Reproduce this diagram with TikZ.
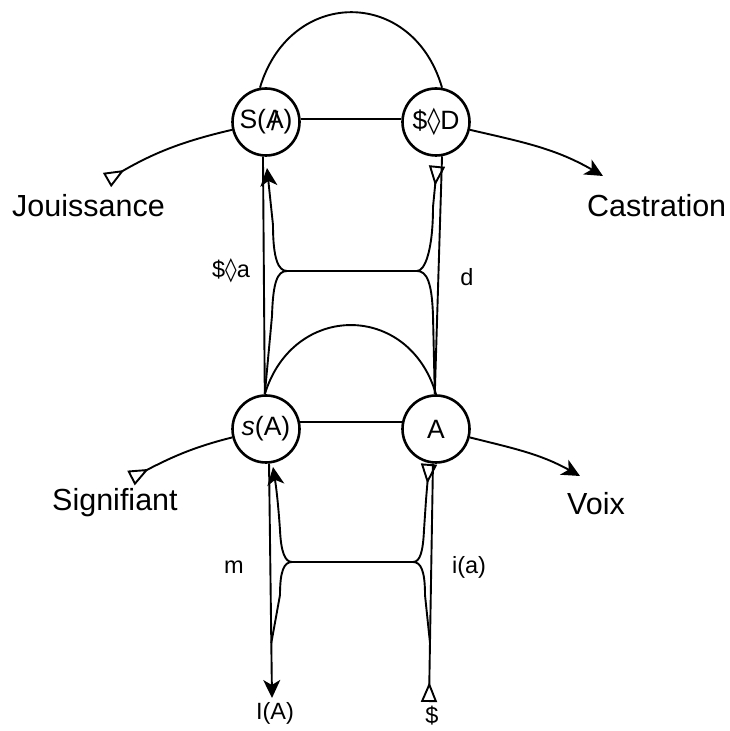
\documentclass[tikz,border=0pt]{standalone}
\usepackage{fontspec}
\setmainfont{Liberation Sans}
\newfontfamily\dejavu{DejaVu Sans}
\usetikzlibrary{arrows.meta}
% barred A and the lozenge (poinçon)
\newcommand{\barredA}{\ooalign{A\cr\hidewidth\raisebox{-0.05em}{/}\hidewidth\cr}}
\newcommand{\lozg}{{\dejavu\char"25CA}}
\tikzset{
  tritail/.tip={Triangle[open,reversed,length=20pt,width=16pt]},
  stlhead/.tip={Stealth[length=18pt,width=17pt,inset=5pt]},
  circ/.style={circle,draw,line width=2.6pt,minimum size=67pt,inner sep=0pt,
    fill=white,font=\fontsize{26.5}{31}\selectfont},
  bigl/.style={inner sep=0pt,font=\fontsize{30.5}{36}\selectfont},
  smalll/.style={inner sep=0pt,font=\fontsize{23.5}{28}\selectfont},
  link/.style={line width=1.9pt},
}
\begin{document}
\begin{tikzpicture}[x=1pt,y=1pt]
\useasboundingbox (0,0) rectangle (729,731);
\fill[white] (0,0) rectangle (729,731);

% the four points of the graph
\node[circ] (SA) at (266,609) {S(\barredA)};
\node[circ] (SD) at (436,609) {\$\lozg D};
\node[circ] (sa) at (266,302) {\textit{s}(A)};
\node[circ] (A)  at (436,302) {A};

% free ends of the vectors
\coordinate (jt)  at (107,551);
\coordinate (ct)  at (603,555);
\coordinate (st)  at (131,253);
\coordinate (vt)  at (580,255);
\coordinate (dt)  at (437,565);
\coordinate (SAt) at (267,563);
\coordinate (at)  at (429,267);
\coordinate (sat) at (273,264);
\coordinate (IAt) at (272,33);
\coordinate (Dt)  at (429,29);
% junctions of the inner loops
\coordinate (uL) at (287,460);
\coordinate (uR) at (417,460);
\coordinate (lL) at (292,169);
\coordinate (lR) at (413,169);

% upper chain: Jouissance -> Castration
\draw[link,tritail-] (jt) to[out=30,in=193] (SA);
\draw[link] (SA.5) -- (SD.175);
\draw[link,-stlhead] (SD) to[out=-13,in=150] (ct);

% lower chain: Signifiant -> Voix
\draw[link,tritail-] (st) to[out=27,in=194] (sa);
\draw[link] (sa.12) -- (A.168);
\draw[link,-stlhead] (A) to[out=-14,in=151] (vt);

% arcs over the chains
\draw[link] (SA.100) .. controls (290,744) and (413,744) .. (SD.80);
\draw[link] (sa.92) .. controls (293,429) and (409,429) .. (A.90);

% outer verticals
\draw[link] (SA.-95) -- (sa.92);
\draw[link] (SD.-80) -- (A.92);
\draw[link,-stlhead] (sa.-85) -- (IAt);
\draw[link,tritail-] (Dt) -- (A.-95);

% upper inner loop
\draw[link,tritail-stlhead] (dt) -- (433,524)
  .. controls (433,481) and (425,460) .. (uR) -- (uL)
  .. controls (278,460) and (273,473) .. (273,506) -- (SAt);
\draw[link] (uL) .. controls (277,460) and (273,448) .. (272,415) -- (sa.92);
\draw[link] (uR) .. controls (427,460) and (432,448) .. (433,415) -- (A.92);

% lower inner loop
\draw[link,tritail-stlhead] (at) -- (426,231) -- (424,201)
  .. controls (423,179) and (420,169) .. (lR) -- (lL)
  .. controls (285,169) and (281,179) .. (280,201)
  .. controls (278,230) and (276,245) .. (sat);
\draw[link] (lL) .. controls (284,169) and (280,160) .. (280,136) -- (271.3,88);
\draw[link] (lR) .. controls (421,169) and (425,160) .. (425,136) -- (430,88);

% labels
\node[bigl,anchor=base west] (jou) at (12,514) {Jouissance};
\node[bigl,anchor=base west] (cas) at (587,514) {Castration};
\node[bigl,anchor=base west] (sig) at (52,220) {Signifiant};
\node[bigl,anchor=base west] (voi) at (567,216) {Voix};
\node[smalll] (lsa) at (231,460) {\$\lozg a};
\node[smalll] (ld)  at (467,454) {d};
\node[smalll] (lm)  at (234,164) {m};
\node[smalll] (lia) at (469,164) {i(a)};
\node[smalll] (lIA) at (275,18) {I(A)};
\node[smalll] (lS)  at (432,15) {\$};
\end{tikzpicture}
\end{document}
